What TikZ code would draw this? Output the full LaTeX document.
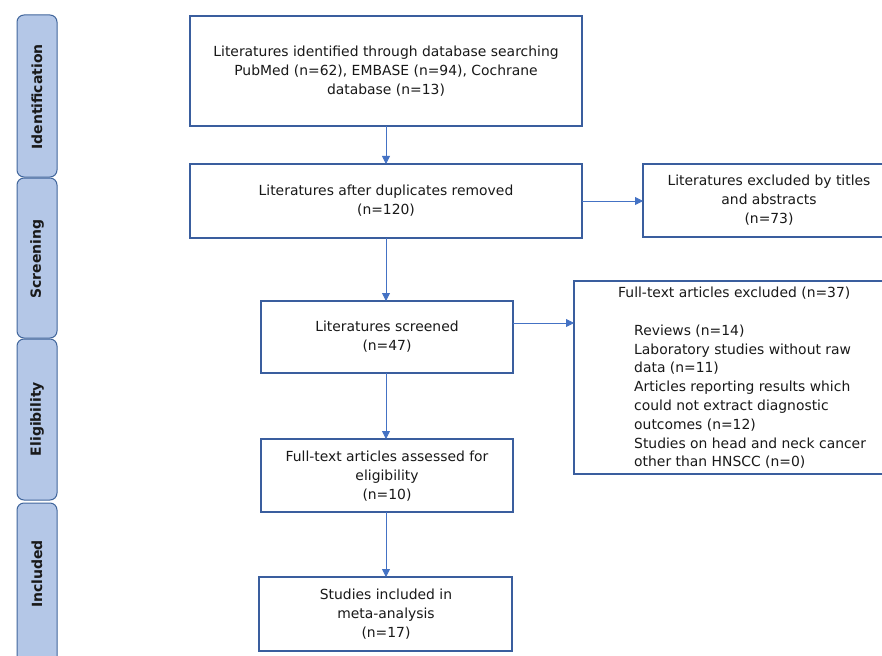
\documentclass[tikz,border=0pt]{standalone}
\usepackage{fontspec}
\setmainfont{DejaVu Sans}
\usetikzlibrary{arrows.meta}
\definecolor{boxline}{HTML}{3A5E9E}
\definecolor{arrowc}{HTML}{4472C4}
\definecolor{sidefill}{HTML}{B4C7E7}
\definecolor{sideline}{HTML}{41669C}
\tikzset{
  mainbox/.style={draw=boxline, line width=1.4pt, fill=white, inner sep=0pt},
  sidebar/.style={draw=sideline, line width=1pt, fill=sidefill, rounded corners=7pt, inner sep=0pt},
  sidelabel/.style={rotate=90, font=\fontsize{14}{16}\selectfont\bfseries, text=black!90},
  txt/.style={font=\fontsize{13.9}{18.8}\selectfont, align=center, text=black!90},
  flow/.style={draw=arrowc, line width=0.8pt, -{Triangle[length=8pt,width=8pt]}}
}
\begin{document}
\begin{tikzpicture}[x=1pt,y=-1pt]
\useasboundingbox (0,0) rectangle (882,655);
\clip (0,0) rectangle (882,655);
\fill[white] (0,0) rectangle (882,655);
% side bars
\draw[sidebar] (17,15) rectangle (57,177);
\draw[sidebar] (17,178) rectangle (57,338);
\draw[sidebar] (17,339) rectangle (57,500);
\draw[sidebar] (17,503) rectangle (57,690);
\node[sidelabel] (sid) at (37,97) {Identification};
\node[sidelabel] (sscr) at (37,259) {Screening};
\node[sidelabel] (selig) at (37,419) {Eligibility};
\node[sidelabel] (sincl) at (37,574) {Included};
% main boxes
\draw[mainbox] (190,16) rectangle (582,126);
\node[txt] (b1) at (386,71) {Literatures identified through database searching\\PubMed (n=62), EMBASE (n=94), Cochrane\\database (n=13)};
\coordinate (b1s) at (386,126);
\draw[mainbox] (190,164) rectangle (582,238);
\node[txt] (b2) at (386,201) {Literatures after duplicates removed\\(n=120)};
\coordinate (b2n) at (386,164);
\coordinate (b2s) at (386,238);
\coordinate (b2e) at (582,201);
\draw[mainbox] (643,164) rectangle (900,237);
\node[txt] (b3) at (769,200) {Literatures excluded by titles\\and abstracts\\(n=73)};
\coordinate (b3w) at (643,201);
\draw[mainbox] (261,301) rectangle (513,373);
\node[txt] (b5) at (387,337) {Literatures screened\\(n=47)};
\coordinate (b5n) at (386,301);
\coordinate (b5s) at (386,373);
\coordinate (b5e) at (513,323);
\draw[mainbox] (574,281) rectangle (900,474);
\node[txt, align=left, anchor=north west, inner sep=0pt] (b4) at (618,287) {Full-text articles excluded (n=37)\\[18.8pt]
\hspace*{16pt}Reviews (n=14)\\
\hspace*{16pt}Laboratory studies without raw\\
\hspace*{16pt}data (n=11)\\
\hspace*{16pt}Articles reporting results which\\
\hspace*{16pt}could not extract diagnostic\\
\hspace*{16pt}outcomes (n=12)\\
\hspace*{16pt}Studies on head and neck cancer\\
\hspace*{16pt}other than HNSCC (n=0)};
\coordinate (b4w) at (574,323);
\draw[mainbox] (261,439) rectangle (513,512);
\node[txt] (b6) at (387,476) {Full-text articles assessed for\\eligibility\\(n=10)};
\coordinate (b6n) at (386,439);
\coordinate (b6s) at (386,512);
\draw[mainbox] (259,577) rectangle (512,651);
\node[txt] (b7) at (386,614) {Studies included in\\meta-analysis\\(n=17)};
\coordinate (b7n) at (386,577);
% arrows
\draw[flow] (b1s) -- (b2n);
\draw[flow] (b2s) -- (b5n);
\draw[flow] (b5s) -- (b6n);
\draw[flow] (b6s) -- (b7n);
\draw[flow] (b2e) -- (b3w);
\draw[flow] (b5e) -- (b4w);
\end{tikzpicture}
\end{document}
